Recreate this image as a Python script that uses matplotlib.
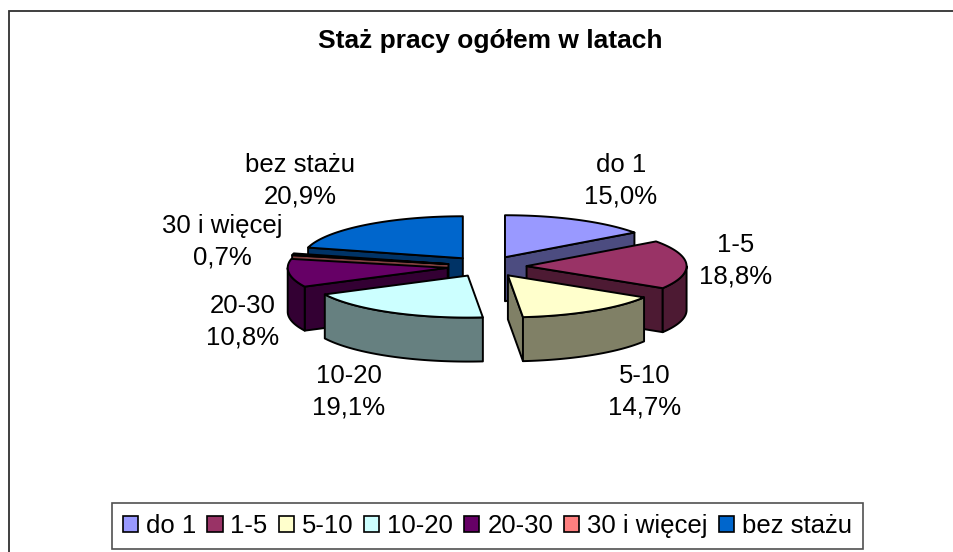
import numpy as np
import matplotlib
matplotlib.use("Agg")
import matplotlib.pyplot as plt
from matplotlib.patches import Polygon, Patch

title = "Staż pracy ogółem w latach"
categories = ["do 1", "1-5", "5-10", "10-20", "20-30", "30 i więcej", "bez stażu"]
values = [15.0, 18.8, 14.7, 19.1, 10.8, 0.7, 20.9]
top_colors = ["#9999FF", "#993366", "#FFFFCC", "#CCFFFF", "#660066", "#FF8080", "#0066CC"]
wall_colors = ["#4C4C80", "#4D1A33", "#808066", "#668080", "#330033", "#804040", "#003366"]
label_xy = [(621, 181), (736, 261), (645, 392), (349, 392), (243, 322), (222, 242), (300, 181)]

CX, CY = 487.0, 266.5
RX, RY = 160.0, 42.0
EXPLODE = 39.6
DEPTH = 44.0
FONT = "Liberation Sans"

fig = plt.figure(figsize=(9.54, 5.52), dpi=100)
ax = fig.add_axes([0, 0, 1, 1])
ax.set_xlim(0, 954)
ax.set_ylim(552, 0)
ax.axis("off")

ax.plot([9, 9, 954], [552, 11, 11], color="#303030", lw=1.3, solid_joinstyle="miter")


def pt(apex, deg, r=1.0):
    a = np.radians(deg)
    return apex[0] + r * RX * np.sin(a), apex[1] - r * RY * np.cos(a)


fracs = np.array(values) / sum(values)
edges = np.concatenate([[0], np.cumsum(fracs)]) * 360
order = sorted(range(len(values)), key=lambda i: -np.cos(np.radians((edges[i] + edges[i + 1]) / 2)))
edge_kw = dict(edgecolor="black", lw=1.4, joinstyle="round")


def wall(points, color, z):
    ax.add_patch(Polygon(points, closed=True, facecolor=color, zorder=z, **edge_kw))


for z, i in enumerate(order):
    t1, t2 = edges[i], edges[i + 1]
    mid = np.radians((t1 + t2) / 2)
    apex = (CX + EXPLODE * np.sin(mid), CY - EXPLODE * RY / RX * np.cos(mid))
    down = lambda p: (p[0], p[1] + DEPTH)
    zz = 2 + z * 0.1
    if np.sin(np.radians(t1)) < 0:
        p = pt(apex, t1)
        wall([apex, p, down(p), down(apex)], wall_colors[i], zz)
    if np.sin(np.radians(t2)) > 0:
        p = pt(apex, t2)
        wall([apex, p, down(p), down(apex)], wall_colors[i], zz)
    lo, hi = max(t1, 90), min(t2, 270)
    if hi > lo:
        arc = [pt(apex, a) for a in np.linspace(lo, hi, 60)]
        wall(arc + [down(p) for p in arc[::-1]], wall_colors[i], zz + 0.01)
    arc = [pt(apex, a) for a in np.linspace(t1, t2, 80)]
    wall([apex] + arc, top_colors[i], zz + 0.02)

for name, v, (x, y) in zip(categories, values, label_xy):
    txt = f"{name}\n{v:.1f}%".replace(".", ",")
    ax.text(x, y, txt, ha="center", va="center", fontsize=18.5, family=FONT,
            linespacing=1.42, color="black", zorder=20)

ax.text(490, 41, title, ha="center", va="center", fontsize=19, family=FONT,
        fontweight="bold", color="black")

handles = [Patch(facecolor=c, edgecolor="black", lw=1.2) for c in top_colors]
leg = ax.legend(handles, categories, ncol=7, loc="center", bbox_to_anchor=(487.5, 526),
                bbox_transform=ax.transData, frameon=True, fancybox=False,
                edgecolor="#505050", framealpha=1, handlelength=0.585, handleheight=0.585,
                handletextpad=0.31, columnspacing=0.43, borderpad=0.42, borderaxespad=0,
                prop={"family": FONT, "size": 18.5})
leg.get_frame().set_linewidth(1.2)
fig.savefig("out.png", dpi=100)
